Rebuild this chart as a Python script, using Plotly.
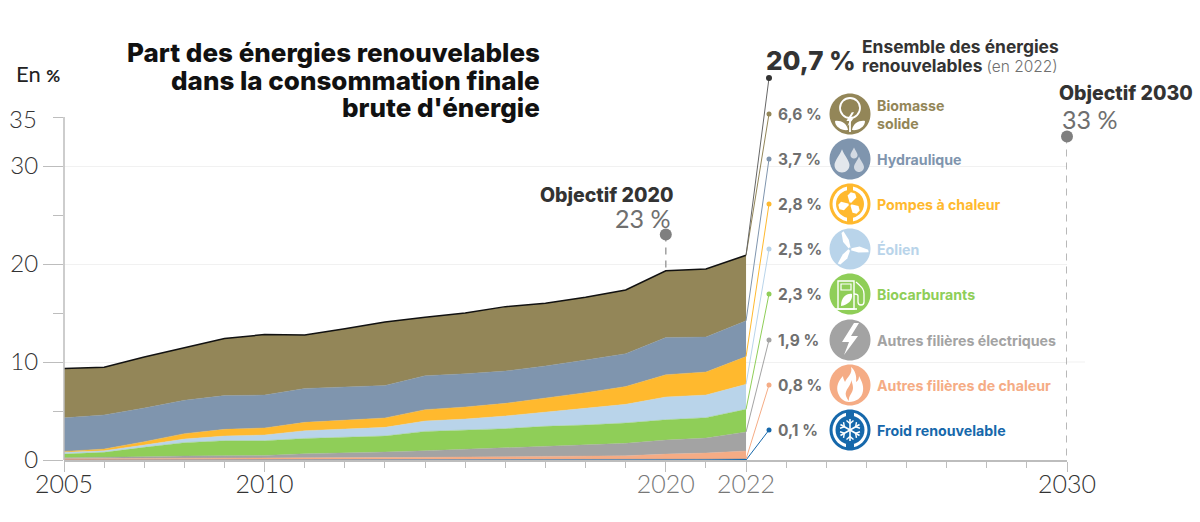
import math
import re
import plotly.graph_objects as go

W = 1200
H = 522
X0, X1 = 64, 1067   # pixel positions of the plot area
Y0, Y1 = 460, 10    # the plot area runs above 35 so that the labels can sit in axis units
PX_PER_UNIT = 9.8

years = list(range(2005, 2023))

# stacked from the bottom up
froid = [0, 0, 0, 0, 0, 0, 0, 0, 0, .02, .02, .02, .03, .03, .04, .05, .07, .1]
chaleur = [.13, .14, .16, .17, .18, .19, .21, .22, .24, .25, .29, .31, .33, .36, .39, .55, .64, .82]
electriques = [.11, .13, .18, .24, .26, .28, .43, .49, .58, .68, .78, .93, 1.04, 1.14, 1.27, 1.44, 1.53, 1.94]
biocarburants = [.37, .51, .95, 1.36, 1.53, 1.5, 1.56, 1.64, 1.63, 1.97, 1.94, 1.94, 2.04, 2.04, 2.08, 2.07, 2.08, 2.31]
eolien = [.17, .17, .24, .37, .48, .58, .79, .81, .88, 1.06, 1.15, 1.29, 1.46, 1.7, 1.9, 2.32, 2.31, 2.55]
pompes = [.10, .17, .34, .55, .68, .72, .85, .92, .96, 1.16, 1.23, 1.29, 1.43, 1.6, 1.82, 2.27, 2.35, 2.83]
hydraulique = [3.42, 3.48, 3.43, 3.41, 3.44, 3.36, 3.46, 3.37, 3.31, 3.46, 3.39, 3.3, 3.27, 3.33, 3.35, 3.8, 3.57, 3.65]
biomasse = [5.03, 4.86, 5.2, 5.36, 5.83, 6.17, 5.46, 5.95, 6.48, 5.96, 6.2, 6.57, 6.4, 6.4, 6.5, 6.8, 6.95, 6.7]

series = [froid, chaleur, electriques, biocarburants, eolien, pompes, hydraulique, biomasse]
names = ["Froid renouvelable", "Autres filières de chaleur", "Autres filières électriques", "Biocarburants",
         "Éolien", "Pompes à chaleur", "Hydraulique", "Biomasse<br>solide"]
shares = ["0,1 %", "0,8 %", "1,9 %", "2,3 %", "2,5 %", "2,8 %", "3,7 %", "6,6 %"]
colors = ["#1668ab", "#f5ac85", "#a3a3a3", "#8fce58", "#b9d4ea", "#ffb92e", "#7f95ae", "#938658"]
icon_y = [430, 385, 340, 294, 249, 204, 159, 114]

objectives = {2020: 23, 2030: 33}

FONT = "Lato"
BOLD = "Inter"
DARK = "#333333"
GREY = "#6f6f6f"


def px(x):
    return (x - X0) / (X1 - X0)


def py(y):
    return (Y0 - y) / (Y0 - Y1)


def to_year(x):
    return 2005 + (x - X0) * 25 / (X1 - X0)


def to_value(y):
    return (Y0 - y) / PX_PER_UNIT


def flip(path):
    # path written with y going down, pixel shapes want it going up
    res, is_y = [], False
    for tok in re.findall(r"[MLCQZ]|-?\d+\.?\d*", path):
        if tok in "MLCQZ":
            res.append(tok)
            is_y = False
        else:
            res.append(f"{-float(tok):.2f}" if is_y else tok)
            is_y = not is_y
    return " ".join(res)


def circle(cx, cy, r):
    k = .5523 * r
    return (f"M {cx - r} {cy} C {cx - r} {cy - k} {cx - k} {cy - r} {cx} {cy - r} "
            f"C {cx + k} {cy - r} {cx + r} {cy - k} {cx + r} {cy} "
            f"C {cx + r} {cy + k} {cx + k} {cy + r} {cx} {cy + r} "
            f"C {cx - k} {cy + r} {cx - r} {cy + k} {cx - r} {cy} Z")


def drop(cx, cy, r):
    k = .5523 * r
    return (f"M {cx} {cy - r * 2.1} C {cx + r * .3} {cy - r * 1.3} {cx + r} {cy - k} {cx + r} {cy} "
            f"C {cx + r} {cy + k} {cx + k} {cy + r} {cx} {cy + r} "
            f"C {cx - k} {cy + r} {cx - r} {cy + k} {cx - r} {cy} "
            f"C {cx - r} {cy - k} {cx - r * .3} {cy - r * 1.3} {cx} {cy - r * 2.1} Z")


def rotate(points, deg):
    a = math.radians(deg)
    return [(x * math.cos(a) - y * math.sin(a), x * math.sin(a) + y * math.cos(a)) for x, y in points]


def poly(points):
    return "M " + " L ".join(f"{x:.2f} {y:.2f}" for x, y in points) + " Z"


def petal(deg, tip=11.5, wide=4.5):
    return rotate([(0, 0), (-wide, -tip * .65), (-wide * .5, -tip), (wide * .5, -tip), (wide, -tip * .7)], deg)


def bolt(s):
    return poly([(4 * s, -17 * s), (-8 * s, 2 * s), (-1 * s, 2 * s), (-6 * s, 15 * s),
                 (8 * s, -4 * s), (1 * s, -4 * s), (9 * s, -17 * s)])


shapes = []


def icon_shape(cy, path, fill="white", line=None, width=0):
    shapes.append(dict(type="path", xref="paper", yref="paper", xsizemode="pixel", ysizemode="pixel",
                       xanchor=px(850), yanchor=py(cy), path=flip(path),
                       fillcolor=fill if fill else "rgba(0,0,0,0)",
                       line=dict(color=line or "rgba(0,0,0,0)", width=width), layer="above"))


def draw_icon(i):
    cy, col = icon_y[i], colors[i]
    icon_shape(cy, circle(0, 0, 20.5), col)
    if i == 0:  # froid
        icon_shape(cy, circle(0, 0, 17.5), "white")
        icon_shape(cy, circle(0, 0, 14.5), col)
        for a in (0, 180):
            icon_shape(cy, poly(rotate([(-4, -20), (4, -20), (4, -14), (-4, -14)], a)), col)
        for a in (0, 60, 120):
            arm = rotate([(0, -11), (0, 11)], a)
            icon_shape(cy, f"M {arm[0][0]:.2f} {arm[0][1]:.2f} L {arm[1][0]:.2f} {arm[1][1]:.2f}", None, "white", 1.6)
        for a in range(0, 360, 60):
            v = rotate([(-3.5, -9.5), (0, -6.5), (3.5, -9.5)], a)
            icon_shape(cy, "M " + " L ".join(f"{x:.2f} {y:.2f}" for x, y in v), None, "white", 1.4)
    elif i == 1:  # flamme
        icon_shape(cy, "M 1 -18 C 3 -11 -3 -8 -5 -3 C -6 -5 -7 -7 -7 -9 C -12 -4 -14 2 -12 8 C -10 14 -5 17 -1 17 "
                       "C 6 17 12 13 13 6 C 14 0 11 -5 9 -9 C 9 -6 8 -4 6 -3 C 7 -9 5 -15 1 -18 Z", "white")
        icon_shape(cy, "M 1 -5 C 2 0 -6 5 -4 11 C -3 14 -1 16 -1 16 C -2 11 3 8 3 3 C 3 0 2 -3 1 -5 Z", col)
    elif i == 2:  # électricité
        icon_shape(cy, bolt(1), "white")
    elif i == 3:  # pompe
        icon_shape(cy, "M -12 15 L -12 -13 L 4 -13 L 4 15 Z", None, "white", 1.4)
        icon_shape(cy, "M -15 15 L 7 15", None, "white", 1.6)
        icon_shape(cy, "M -9 -10 L 1 -10 L 1 -4 L -9 -4 Z", None, "white", 1.2)
        icon_shape(cy, "M -9 12 C -9 3 -3 -1 2 0 C 3 6 -2 11 -9 12 Z", "white")
        icon_shape(cy, "M 6 -12 C 13 -6 14 -4 14 0 L 14 8 C 14 12 8 12 8 8 L 8 2 C 8 0 6 0 4 0", None, "white", 1.3)
    elif i == 4:  # éolienne
        for a in (-20, 100, 220):
            blade = rotate([(-1, -1), (-4, -9), (-2.5, -18), (0, -19), (2, -9), (1, -1)], a)
            icon_shape(cy, poly(blade), "white")
        icon_shape(cy, circle(0, 0, 1.4), col)
    elif i == 5:  # pompe à chaleur
        icon_shape(cy, circle(0, 0, 17.5), "white")
        icon_shape(cy, circle(0, 0, 14), col)
        for a in (0, 180):
            icon_shape(cy, poly(rotate([(-3, -20), (3, -20), (3, -13), (-3, -13)], a)), col)
        for a in (15, 135, 255):
            icon_shape(cy, poly(petal(a)), "white")
        icon_shape(cy, circle(0, 0, 1.5), col)
    elif i == 6:  # gouttes
        icon_shape(cy, drop(-8, 6, 7.5), "#e3e7ec")
        icon_shape(cy, drop(4, -4, 3.6), "#d3dae3")
        icon_shape(cy, drop(9, 8, 5), "#d3dae3")
    else:  # biomasse
        icon_shape(cy, circle(0, -6, 10), None, "white", 1.8)
        icon_shape(cy, "M 0 4 L 0 18", None, "white", 1.8)
        icon_shape(cy, "M -2 16 C -3 9 -10 6 -15 7 C -15 13 -8 17 -2 16 Z", "white")
        icon_shape(cy, "M 2 16 C 3 9 10 6 15 7 C 15 13 8 17 2 16 Z", "white")
        icon_shape(cy, bolt(.45), "white")
        shapes[-1]["yanchor"] = py(cy + 6)


fig = go.Figure()

for values, name, color in zip(series, names, colors):
    top = color == colors[-1]
    fig.add_trace(go.Scatter(
        x=years, y=values, name=name.replace("<br>", " "), mode="lines", stackgroup="energies",
        fillcolor=color, line=dict(color="#111111" if top else color, width=1.5 if top else 0.4),
        showlegend=False,
    ))

# traits vers les étiquettes de droite
dot_x = to_year(769)
total = 0
for i, values in enumerate(series):
    base = total
    total += values[-1]
    start = base if i < 2 else total
    fig.add_trace(go.Scatter(
        x=[2022, dot_x], y=[start, to_value(icon_y[i])], mode="lines", showlegend=False,
        line=dict(color=colors[i], width=1),
    ))
    fig.add_trace(go.Scatter(
        x=[dot_x], y=[to_value(icon_y[i])], mode="markers", showlegend=False,
        marker=dict(color=colors[i], size=5),
    ))
fig.add_trace(go.Scatter(
    x=[2022, dot_x], y=[total, to_value(78)], mode="lines", showlegend=False,
    line=dict(color="#666666", width=1),
))
fig.add_trace(go.Scatter(
    x=[dot_x], y=[to_value(78)], mode="markers", showlegend=False,
    marker=dict(color="#333333", size=6),
))

# objectifs
total_2020 = sum(s[years.index(2020)] for s in series)
for year, bottom in ((2020, total_2020), (2030, 0)):
    fig.add_trace(go.Scatter(
        x=[year, year], y=[objectives[year], bottom], mode="lines", cliponaxis=False, showlegend=False,
        line=dict(color="#a0a0a0", width=1.5, dash="7px,6px"),
    ))
    fig.add_trace(go.Scatter(
        x=[year], y=[objectives[year]], mode="markers", cliponaxis=False, showlegend=False,
        marker=dict(color="#7f7f7f", size=12),
    ))

for i in range(len(series)):
    draw_icon(i)

# axe vertical arrêté à 35, et la ligne de 10 qui dépasse un peu à droite
shapes.append(dict(type="line", xref="paper", yref="paper", x0=0, x1=0, y0=0, y1=py(Y0 - 35 * PX_PER_UNIT),
                   line=dict(color="#bdbdbd", width=1.5), layer="above"))
shapes.append(dict(type="line", xref="paper", yref="paper", x0=1, x1=px(1085), y0=py(362), y1=py(362),
                   line=dict(color="#f1f1f1", width=1), layer="below"))


def text(x, y, s, size, color=DARK, weight=400, anchor="left", family=BOLD):
    return dict(x=px(x), y=py(y), xref="paper", yref="paper", text=s, showarrow=False,
                xanchor=anchor, yanchor="middle", align=anchor, borderpad=0,
                font=dict(family=family, size=size, color=color, weight=weight))


annotations = [
    text(541, 53, "Part des énergies renouvelables", 26, "#111111", 800, "right"),
    text(541, 80, "dans la consommation finale", 26, "#111111", 800, "right"),
    text(541, 108, "brute d'énergie", 26, "#111111", 800, "right"),
    text(15, 73, "En <span style=\"font-size:17px;font-weight:700\">%</span>", 22, "#222222", 400, family=FONT),
    text(38, 118, "35", 24, DARK, 300, "right", FONT),
    text(674, 195, "Objectif 2020", 19.5, DARK, 800, "right"),
    text(671, 218, "23 %", 25, GREY, 400, "right", FONT),
    text(1058, 93, "Objectif 2030", 19.5, DARK, 800),
    text(1061, 119, "33 %", 25, GREY, 400, family=FONT),
    text(765, 60, "20,7 %", 26, DARK, 800),
    text(861, 47, "Ensemble des énergies", 17.4, DARK, 700),
    text(861, 65, "renouvelables <span style=\"font-size:15.5px;font-weight:300;color:#6f6f6f\">(en 2022)</span>", 17.4, DARK, 700),
]
for i in range(len(series)):
    annotations.append(text(777, icon_y[i], shares[i], 15.5, GREY, 700))
    annotations.append(text(876, icon_y[i], names[i], 14.2, colors[i], 700))

fig.update_layout(
    width=W, height=H,
    margin=dict(l=X0, r=W - X1, t=Y1, b=H - Y0, pad=0, autoexpand=False),
    paper_bgcolor="white", plot_bgcolor="white",
    font=dict(family=FONT),
    shapes=shapes, annotations=annotations,
    showlegend=False,
    xaxis=dict(
        range=[2005, 2030], showgrid=False, zeroline=False, showline=True, linecolor="#bdbdbd", linewidth=1.5,
        ticks="outside", ticklen=10, tickwidth=1.2, tickcolor="#bdbdbd", ticklabelstandoff=-9,
        tickvals=[2005, 2010, 2015, 2020, 2022, 2025, 2030],
        ticktext=["2005", "2010", "", "<span style=\"color:#777\">2020</span>", "<span style=\"color:#777\">2022</span>", "", "2030"],
        tickfont=dict(family=FONT, size=25, color=DARK, weight=300), tickangle=0,
        minor=dict(tickvals=list(range(2005, 2031)), ticks="outside", ticklen=6, tickcolor="#bdbdbd", tickwidth=1, showgrid=False),
    ),
    yaxis=dict(
        range=[0, to_value(Y1)], showgrid=True, gridcolor="#f1f1f1", gridwidth=1, zeroline=False, showline=False,
        ticks="outside", ticklen=20, tickwidth=1.2, tickcolor="#bdbdbd",
        tickvals=[0, 10, 20, 30], ticktext=["0", "10", "20", "30"],
        tickfont=dict(family=FONT, size=24, color=DARK, weight=300),
        minor=dict(tickvals=[5, 15, 25, 35], ticks="outside", ticklen=10, tickcolor="#bdbdbd", tickwidth=1, showgrid=False),
    ),
)

fig.write_html("out.html", post_script="document.body.style.margin='0';", config={"displayModeBar": False})
